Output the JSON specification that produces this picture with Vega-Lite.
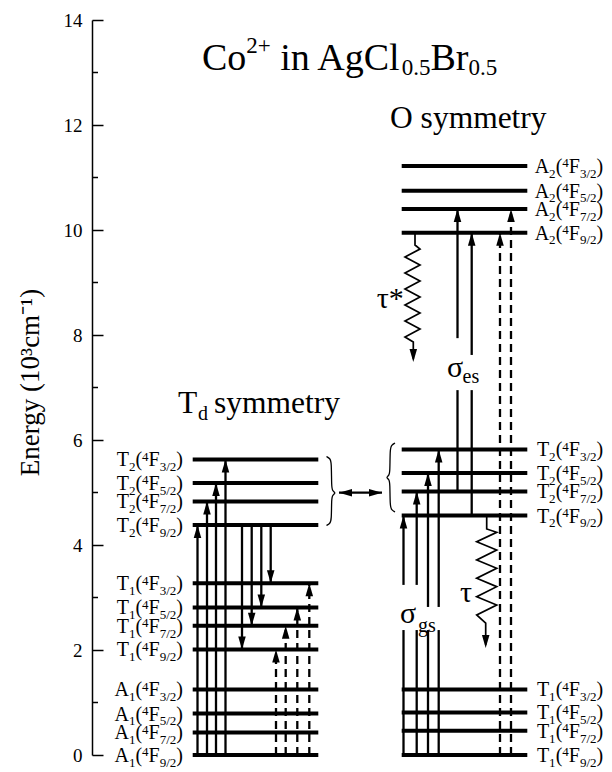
{
  "$schema": "https://vega.github.io/schema/vega-lite/v6.json",
  "width": 520,
  "height": 735,
  "autosize": {"type": "none"},
  "padding": {"left": 92, "top": 20, "right": 0, "bottom": 17},
  "background": "white",
  "config": {"view": {"stroke": null}, "font": "Liberation Serif"},
  "datasets": {
    "levels": [
      {"grp": "Td", "x": 100.7, "xe": 226.3, "e": 0, "L": "A", "n": "1", "j": "9/2"},
      {"grp": "Td", "x": 100.7, "xe": 226.3, "e": 0.43, "L": "A", "n": "1", "j": "7/2"},
      {"grp": "Td", "x": 100.7, "xe": 226.3, "e": 0.79, "L": "A", "n": "1", "j": "5/2"},
      {"grp": "Td", "x": 100.7, "xe": 226.3, "e": 1.25, "L": "A", "n": "1", "j": "3/2"},
      {"grp": "Td", "x": 100.7, "xe": 226.3, "e": 2.01, "L": "T", "n": "1", "j": "9/2"},
      {"grp": "Td", "x": 100.7, "xe": 226.3, "e": 2.46, "L": "T", "n": "1", "j": "7/2"},
      {"grp": "Td", "x": 100.7, "xe": 226.3, "e": 2.81, "L": "T", "n": "1", "j": "5/2"},
      {"grp": "Td", "x": 100.7, "xe": 226.3, "e": 3.27, "L": "T", "n": "1", "j": "3/2"},
      {"grp": "Td", "x": 100.7, "xe": 226.3, "e": 4.38, "L": "T", "n": "2", "j": "9/2"},
      {"grp": "Td", "x": 100.7, "xe": 226.3, "e": 4.83, "L": "T", "n": "2", "j": "7/2"},
      {"grp": "Td", "x": 100.7, "xe": 226.3, "e": 5.18, "L": "T", "n": "2", "j": "5/2"},
      {"grp": "Td", "x": 100.7, "xe": 226.3, "e": 5.63, "L": "T", "n": "2", "j": "3/2"},
      {"grp": "O", "x": 309.7, "xe": 435.3, "e": 0, "L": "T", "n": "1", "j": "9/2"},
      {"grp": "O", "x": 309.7, "xe": 435.3, "e": 0.46, "L": "T", "n": "1", "j": "7/2"},
      {"grp": "O", "x": 309.7, "xe": 435.3, "e": 0.81, "L": "T", "n": "1", "j": "5/2"},
      {"grp": "O", "x": 309.7, "xe": 435.3, "e": 1.25, "L": "T", "n": "1", "j": "3/2"},
      {"grp": "O", "x": 309.7, "xe": 435.3, "e": 4.56, "L": "T", "n": "2", "j": "9/2"},
      {"grp": "O", "x": 309.7, "xe": 435.3, "e": 5.02, "L": "T", "n": "2", "j": "7/2"},
      {"grp": "O", "x": 309.7, "xe": 435.3, "e": 5.37, "L": "T", "n": "2", "j": "5/2"},
      {"grp": "O", "x": 309.7, "xe": 435.3, "e": 5.82, "L": "T", "n": "2", "j": "3/2"},
      {"grp": "O", "x": 309.7, "xe": 435.3, "e": 9.95, "L": "A", "n": "2", "j": "9/2"},
      {"grp": "O", "x": 309.7, "xe": 435.3, "e": 10.40, "L": "A", "n": "2", "j": "7/2"},
      {"grp": "O", "x": 309.7, "xe": 435.3, "e": 10.75, "L": "A", "n": "2", "j": "5/2"},
      {"grp": "O", "x": 309.7, "xe": 435.3, "e": 11.22, "L": "A", "n": "2", "j": "3/2"}
    ],
    "solid": [
      {"x": 105.5, "e": 0, "e2": 4.38},
      {"x": 115, "e": 0, "e2": 4.83},
      {"x": 124, "e": 0, "e2": 5.18},
      {"x": 133.5, "e": 0, "e2": 5.63},
      {"x": 150, "e": 4.38, "e2": 2.01},
      {"x": 159.7, "e": 4.38, "e2": 2.46},
      {"x": 169.3, "e": 4.38, "e2": 2.81},
      {"x": 178.7, "e": 4.38, "e2": 3.27},
      {"x": 311.5, "e": 0, "e2": 2.38},
      {"x": 311.5, "e": 3.24, "e2": 4.56},
      {"x": 324.7, "e": 0, "e2": 2.38},
      {"x": 324.7, "e": 3.24, "e2": 5.02},
      {"x": 336, "e": 0, "e2": 2.38},
      {"x": 336, "e": 2.82, "e2": 5.37},
      {"x": 346.7, "e": 0, "e2": 2.38},
      {"x": 346.7, "e": 2.82, "e2": 5.82},
      {"x": 365.5, "e": 5.02, "e2": 6.95},
      {"x": 365.5, "e": 7.94, "e2": 10.40},
      {"x": 379.7, "e": 4.56, "e2": 6.95},
      {"x": 379.7, "e": 7.62, "e2": 9.95},
      {"x": 247, "e": 4.996, "e2": 4.996, "xe": 290}
    ],
    "dashed": [
      {"x": 184, "e": 0, "e2": 2.01},
      {"x": 193.7, "e": 0, "e2": 2.46},
      {"x": 205.3, "e": 0, "e2": 2.81},
      {"x": 217.3, "e": 0, "e2": 3.27},
      {"x": 408, "e": 0, "e2": 9.95},
      {"x": 419, "e": 0, "e2": 10.40}
    ],
    "heads": [
      {"x": 105.5, "e": 4.38, "dir": "up"},
      {"x": 115, "e": 4.83, "dir": "up"},
      {"x": 124, "e": 5.18, "dir": "up"},
      {"x": 133.5, "e": 5.63, "dir": "up"},
      {"x": 184, "e": 2.01, "dir": "up"},
      {"x": 193.7, "e": 2.46, "dir": "up"},
      {"x": 205.3, "e": 2.81, "dir": "up"},
      {"x": 217.3, "e": 3.27, "dir": "up"},
      {"x": 311.5, "e": 4.56, "dir": "up"},
      {"x": 324.7, "e": 5.02, "dir": "up"},
      {"x": 336, "e": 5.37, "dir": "up"},
      {"x": 346.7, "e": 5.82, "dir": "up"},
      {"x": 365.5, "e": 10.40, "dir": "up"},
      {"x": 379.7, "e": 9.95, "dir": "up"},
      {"x": 408, "e": 9.95, "dir": "up"},
      {"x": 419, "e": 10.40, "dir": "up"},
      {"x": 150, "e": 2.01, "dir": "down"},
      {"x": 159.7, "e": 2.46, "dir": "down"},
      {"x": 169.3, "e": 2.81, "dir": "down"},
      {"x": 178.7, "e": 3.27, "dir": "down"},
      {"x": 321.3, "e": 7.486, "dir": "down"},
      {"x": 393.7, "e": 2.038, "dir": "down"},
      {"x": 247, "e": 4.996, "dir": "left"},
      {"x": 290, "e": 4.996, "dir": "right"}
    ],
    "waves": [
      {"id": "tau*", "i": 0, "x": 323, "e": 9.95},
      {"id": "tau*", "i": 1, "x": 323, "e": 9.714},
      {"id": "tau*", "i": 2, "x": 328, "e": 9.638},
      {"id": "tau*", "i": 3, "x": 313, "e": 9.486},
      {"id": "tau*", "i": 4, "x": 328, "e": 9.333},
      {"id": "tau*", "i": 5, "x": 313, "e": 9.181},
      {"id": "tau*", "i": 6, "x": 328, "e": 9.029},
      {"id": "tau*", "i": 7, "x": 313, "e": 8.876},
      {"id": "tau*", "i": 8, "x": 328, "e": 8.724},
      {"id": "tau*", "i": 9, "x": 313, "e": 8.571},
      {"id": "tau*", "i": 10, "x": 328, "e": 8.419},
      {"id": "tau*", "i": 11, "x": 313, "e": 8.267},
      {"id": "tau*", "i": 12, "x": 328, "e": 8.114},
      {"id": "tau*", "i": 13, "x": 313, "e": 7.962},
      {"id": "tau*", "i": 14, "x": 321.3, "e": 7.867},
      {"id": "tau*", "i": 15, "x": 321.3, "e": 7.55},
      {"id": "tau", "i": 0, "x": 394.7, "e": 4.56},
      {"id": "tau", "i": 1, "x": 394.7, "e": 4.305},
      {"id": "tau", "i": 2, "x": 404.7, "e": 4.242},
      {"id": "tau", "i": 3, "x": 384.7, "e": 4.063},
      {"id": "tau", "i": 4, "x": 404.7, "e": 3.905},
      {"id": "tau", "i": 5, "x": 384.7, "e": 3.714},
      {"id": "tau", "i": 6, "x": 404.7, "e": 3.556},
      {"id": "tau", "i": 7, "x": 384.7, "e": 3.366},
      {"id": "tau", "i": 8, "x": 404.7, "e": 3.206},
      {"id": "tau", "i": 9, "x": 384.7, "e": 3.015},
      {"id": "tau", "i": 10, "x": 404.7, "e": 2.857},
      {"id": "tau", "i": 11, "x": 384.7, "e": 2.667},
      {"id": "tau", "i": 12, "x": 393.7, "e": 2.514},
      {"id": "tau", "i": 13, "x": 393.7, "e": 2.1}
    ],
    "braces": [
      {"id": "Td", "i": 0, "x": 234.5, "e": 5.686},
      {"id": "Td", "i": 1, "x": 238, "e": 5.648},
      {"id": "Td", "i": 2, "x": 239.5, "e": 5.581},
      {"id": "Td", "i": 3, "x": 239.5, "e": 5.105},
      {"id": "Td", "i": 4, "x": 240.5, "e": 5.029},
      {"id": "Td", "i": 5, "x": 244, "e": 4.99},
      {"id": "Td", "i": 6, "x": 240.5, "e": 4.952},
      {"id": "Td", "i": 7, "x": 239.5, "e": 4.876},
      {"id": "Td", "i": 8, "x": 239.5, "e": 4.476},
      {"id": "Td", "i": 9, "x": 238, "e": 4.41},
      {"id": "Td", "i": 10, "x": 234.5, "e": 4.371},
      {"id": "O", "i": 0, "x": 303, "e": 5.943},
      {"id": "O", "i": 1, "x": 299.5, "e": 5.905},
      {"id": "O", "i": 2, "x": 298, "e": 5.829},
      {"id": "O", "i": 3, "x": 298, "e": 5.39},
      {"id": "O", "i": 4, "x": 297, "e": 5.324},
      {"id": "O", "i": 5, "x": 294, "e": 5.286},
      {"id": "O", "i": 6, "x": 297, "e": 5.248},
      {"id": "O", "i": 7, "x": 298, "e": 5.181},
      {"id": "O", "i": 8, "x": 298, "e": 4.743},
      {"id": "O", "i": 9, "x": 299.5, "e": 4.667},
      {"id": "O", "i": 10, "x": 303, "e": 4.629}
    ],
    "minorTicks": [
      {"x": 0, "xe": 6, "e": 1}, {"x": 0, "xe": 6, "e": 3}, {"x": 0, "xe": 6, "e": 5},
      {"x": 0, "xe": 6, "e": 7}, {"x": 0, "xe": 6, "e": 9}, {"x": 0, "xe": 6, "e": 11},
      {"x": 0, "xe": 6, "e": 13}
    ],
    "titleBig": [
      {"x": 110, "e": 13.048, "text": "Co"},
      {"x": 188.3, "e": 13.048, "text": "in AgCl"},
      {"x": 338.5, "e": 13.048, "text": "Br"}
    ],
    "titleSup": [{"x": 154.3, "e": 13.37, "text": "2+"}],
    "titleSub": [
      {"x": 309.7, "e": 12.952, "text": "0.5"},
      {"x": 376.5, "e": 12.952, "text": "0.5"}
    ],
    "headings": [
      {"x": 298, "e": 11.943, "text": "O symmetry"},
      {"x": 86, "e": 6.514, "text": "T"},
      {"x": 122, "e": 6.514, "text": "symmetry"}
    ],
    "greek": [
      {"x": 308, "e": 2.514, "text": "σ"},
      {"x": 355, "e": 7.206, "text": "σ"},
      {"x": 368, "e": 2.914, "text": "τ"},
      {"x": 284.7, "e": 8.514, "text": "τ*"}
    ],
    "subs": [
      {"x": 106, "e": 6.38, "text": "d"},
      {"x": 326, "e": 2.343, "text": "gs"},
      {"x": 370.5, "e": 7.08, "text": "es"}
    ]
  },
  "encoding": {
    "x": {"field": "x", "type": "quantitative", "scale": {"domain": [0, 520], "nice": false, "zero": false}, "axis": null},
    "y": {
      "field": "e", "type": "quantitative",
      "scale": {"domain": [0, 14], "nice": false},
      "axis": {
        "title": "Energy (10³cm⁻¹)",
        "values": [0, 2, 4, 6, 8, 10, 12, 14],
        "format": "d",
        "grid": false,
        "domainColor": "black", "domainWidth": 1.5,
        "tickColor": "black", "tickWidth": 1.5, "tickSize": -11,
        "labelPadding": 21, "labelFont": "Liberation Serif", "labelFontSize": 19, "labelColor": "black",
        "labelFlush": false, "labelOverlap": false, "labelBound": false,
        "titleFont": "Liberation Serif", "titleFontSize": 27, "titleFontWeight": "normal", "titleColor": "black",
        "titleAngle": -90, "titleX": -62, "titleY": 362, "titleAlign": "center", "titleBaseline": "middle"
      }
    }
  },
  "layer": [
    {"data": {"name": "minorTicks"}, "mark": {"type": "rule", "color": "black", "strokeWidth": 1.5}, "encoding": {"x2": {"field": "xe"}}},
    {"data": {"name": "levels"}, "mark": {"type": "rule", "color": "black", "strokeWidth": 4}, "encoding": {"x2": {"field": "xe"}}},
    {"data": {"name": "solid"}, "mark": {"type": "rule", "color": "black", "strokeWidth": 2.3}, "encoding": {"y2": {"field": "e2"}, "x2": {"field": "xe"}}},
    {"data": {"name": "dashed"}, "mark": {"type": "rule", "color": "black", "strokeWidth": 2.3, "strokeDash": [8, 5]}, "encoding": {"y2": {"field": "e2"}}},
    {"data": {"name": "waves"}, "mark": {"type": "line", "color": "black", "strokeWidth": 1.7}, "encoding": {"detail": {"field": "id"}, "order": {"field": "i", "type": "quantitative"}}},
    {"data": {"name": "braces"}, "mark": {"type": "line", "color": "black", "strokeWidth": 1.3, "interpolate": "basis"}, "encoding": {"detail": {"field": "id"}, "order": {"field": "i", "type": "quantitative"}}},
    {"data": {"name": "heads"}, "mark": {"type": "point", "filled": true, "color": "black", "opacity": 1, "size": 676, "strokeWidth": 0},
      "encoding": {"shape": {"field": "dir", "type": "nominal", "legend": null,
        "scale": {"domain": ["up", "down", "left", "right"], "range": ["M0,0L0.29,1L-0.29,1Z", "M0,0L0.29,-1L-0.29,-1Z", "M0,0L1,-0.29L1,0.29Z", "M0,0L-1,-0.29L-1,0.29Z"]}}}},

    {"data": {"name": "levels"}, "transform": [{"filter": "datum.grp === 'Td'"}], "mark": {"type": "text", "align": "right", "baseline": "alphabetic", "dx": -63.8, "dy": 7, "fontSize": 20, "color": "black"}, "encoding": {"text": {"field": "L"}}},
    {"data": {"name": "levels"}, "transform": [{"filter": "datum.grp === 'Td'"}], "mark": {"type": "text", "align": "right", "baseline": "alphabetic", "dx": -57.3, "dy": 11.8, "fontSize": 13, "color": "black"}, "encoding": {"text": {"field": "n"}}},
    {"data": {"name": "levels"}, "transform": [{"filter": "datum.grp === 'Td'"}], "mark": {"type": "text", "align": "right", "baseline": "alphabetic", "dx": -50.6, "dy": 7, "fontSize": 20, "color": "black", "text": "("}},
    {"data": {"name": "levels"}, "transform": [{"filter": "datum.grp === 'Td'"}], "mark": {"type": "text", "align": "right", "baseline": "alphabetic", "dx": -44.1, "dy": 1.3, "fontSize": 13, "color": "black", "text": "4"}},
    {"data": {"name": "levels"}, "transform": [{"filter": "datum.grp === 'Td'"}], "mark": {"type": "text", "align": "right", "baseline": "alphabetic", "dx": -33.0, "dy": 7, "fontSize": 20, "color": "black", "text": "F"}},
    {"data": {"name": "levels"}, "transform": [{"filter": "datum.grp === 'Td'"}], "mark": {"type": "text", "align": "right", "baseline": "alphabetic", "dx": -16.4, "dy": 11.8, "fontSize": 13, "color": "black"}, "encoding": {"text": {"field": "j"}}},
    {"data": {"name": "levels"}, "transform": [{"filter": "datum.grp === 'Td'"}], "mark": {"type": "text", "align": "right", "baseline": "alphabetic", "dx": -9.7, "dy": 7, "fontSize": 20, "color": "black", "text": ")"}},

    {"data": {"name": "levels"}, "transform": [{"filter": "datum.grp === 'O'"}], "mark": {"type": "text", "align": "right", "baseline": "alphabetic", "dx": 21.8, "dy": 7, "fontSize": 20, "color": "black"}, "encoding": {"x": {"field": "xe", "type": "quantitative"}, "text": {"field": "L"}}},
    {"data": {"name": "levels"}, "transform": [{"filter": "datum.grp === 'O'"}], "mark": {"type": "text", "align": "right", "baseline": "alphabetic", "dx": 28.3, "dy": 11.8, "fontSize": 13, "color": "black"}, "encoding": {"x": {"field": "xe", "type": "quantitative"}, "text": {"field": "n"}}},
    {"data": {"name": "levels"}, "transform": [{"filter": "datum.grp === 'O'"}], "mark": {"type": "text", "align": "right", "baseline": "alphabetic", "dx": 35.0, "dy": 7, "fontSize": 20, "color": "black", "text": "("}, "encoding": {"x": {"field": "xe", "type": "quantitative"}}},
    {"data": {"name": "levels"}, "transform": [{"filter": "datum.grp === 'O'"}], "mark": {"type": "text", "align": "right", "baseline": "alphabetic", "dx": 41.5, "dy": 1.3, "fontSize": 13, "color": "black", "text": "4"}, "encoding": {"x": {"field": "xe", "type": "quantitative"}}},
    {"data": {"name": "levels"}, "transform": [{"filter": "datum.grp === 'O'"}], "mark": {"type": "text", "align": "right", "baseline": "alphabetic", "dx": 52.6, "dy": 7, "fontSize": 20, "color": "black", "text": "F"}, "encoding": {"x": {"field": "xe", "type": "quantitative"}}},
    {"data": {"name": "levels"}, "transform": [{"filter": "datum.grp === 'O'"}], "mark": {"type": "text", "align": "right", "baseline": "alphabetic", "dx": 69.2, "dy": 11.8, "fontSize": 13, "color": "black"}, "encoding": {"x": {"field": "xe", "type": "quantitative"}, "text": {"field": "j"}}},
    {"data": {"name": "levels"}, "transform": [{"filter": "datum.grp === 'O'"}], "mark": {"type": "text", "align": "right", "baseline": "alphabetic", "dx": 75.9, "dy": 7, "fontSize": 20, "color": "black", "text": ")"}, "encoding": {"x": {"field": "xe", "type": "quantitative"}}},

    {"data": {"name": "titleBig"}, "mark": {"type": "text", "align": "left", "baseline": "alphabetic", "fontSize": 38, "color": "black"}, "encoding": {"text": {"field": "text"}}},
    {"data": {"name": "titleSup"}, "mark": {"type": "text", "align": "left", "baseline": "alphabetic", "fontSize": 23, "color": "black"}, "encoding": {"text": {"field": "text"}}},
    {"data": {"name": "titleSub"}, "mark": {"type": "text", "align": "left", "baseline": "alphabetic", "fontSize": 23, "color": "black"}, "encoding": {"text": {"field": "text"}}},
    {"data": {"name": "headings"}, "mark": {"type": "text", "align": "left", "baseline": "alphabetic", "fontSize": 31.5, "color": "black"}, "encoding": {"text": {"field": "text"}}},
    {"data": {"name": "greek"}, "mark": {"type": "text", "align": "left", "baseline": "alphabetic", "fontSize": 30, "color": "black"}, "encoding": {"text": {"field": "text"}}},
    {"data": {"name": "subs"}, "mark": {"type": "text", "align": "left", "baseline": "alphabetic", "fontSize": 20, "color": "black"}, "encoding": {"text": {"field": "text"}}}
  ]
}
